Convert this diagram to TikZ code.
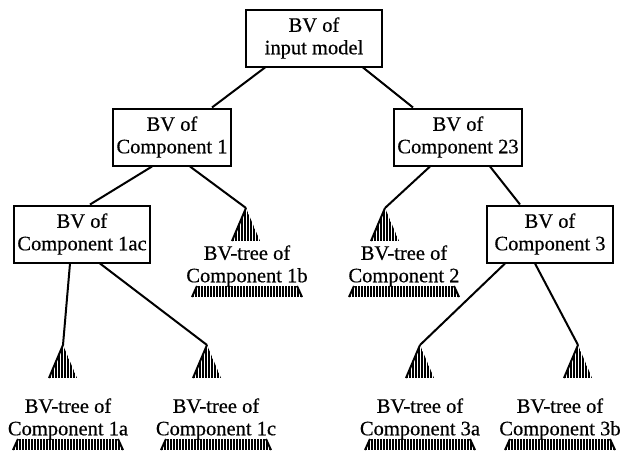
\documentclass[tikz,border=0pt]{standalone}
\usepackage{fontspec}
\setmainfont{Liberation Serif}[FakeBold=0.5]
\usetikzlibrary{positioning}

\begin{document}
\begin{tikzpicture}[x=1pt, y=-1pt,
  every node/.style={font=\fontsize{20.5}{22.5}\selectfont, align=center},
  bvbox/.style={draw, line width=2pt, inner xsep=3pt, inner ysep=4pt, minimum height=57pt},
  link/.style={line width=2pt},
  hatch/.style={line width=1.6pt}]
  \useasboundingbox (0,0) rectangle (628,450);
  % inner nodes
  \node[bvbox, minimum width=136pt] (root) at (314,38) {BV of\\input model};
  \node[bvbox, minimum width=116pt] (c1) at (172,137) {BV of\\Component 1};
  \node[bvbox, minimum width=126pt] (c23) at (458,137) {BV of\\Component 23};
  \node[bvbox, minimum width=134pt] (c1ac) at (82,234) {BV of\\Component 1ac};
  \node[bvbox, minimum width=126pt] (c3) at (550,234) {BV of\\Component 3};
  % leaf subtrees
  \foreach \name/\ax/\ay/\lx/\ly in {1b/246/208/247/266, 2/385/208/404/266,
      1a/63/345/68/419, 1c/207/345/216/419, 3a/420/345/420/419, 3b/578/345/560/419} {
    \coordinate (t\name) at (\ax,\ay);
    \begin{scope}
      \clip (\ax,\ay) -- (\ax-14,\ay+33) -- (\ax+14,\ay+33) -- cycle;
      \foreach \k in {-13,-10,...,14} \draw[hatch] (\ax+\k,\ay) -- (\ax+\k,\ay+33);
    \end{scope}
    \draw[link] (t\name) -- ++(-14,33);
    \node (l\name) at (\lx,\ly) {BV-tree of\\Component \name};
    \begin{scope}
      \clip (\lx-50,\ly+20) -- (\lx+50,\ly+20) -- (\lx+55,\ly+31) -- (\lx-55,\ly+31) -- cycle;
      \foreach \k in {-54,-51,...,54} \draw[hatch] (\lx+\k,\ly+20) -- (\lx+\k,\ly+31);
    \end{scope}
    \draw[link] (\lx-50,\ly+20) -- (\lx-55,\ly+31);
    \draw[link] (\lx+50,\ly+20) -- (\lx+55,\ly+31);
  }
  % connectors
  \draw[link] ([xshift=-49pt]root.south) -- ([xshift=40pt]c1.north);
  \draw[link] ([xshift=49pt]root.south) -- ([xshift=-45pt]c23.north);
  \draw[link] ([xshift=-20pt]c1.south) -- ([xshift=8pt]c1ac.north);
  \draw[link] ([xshift=18pt]c1.south) -- (t1b);
  \draw[link] ([xshift=-28pt]c23.south) -- (t2);
  \draw[link] ([xshift=32pt]c23.south) -- ([xshift=-30pt]c3.north);
  \draw[link] ([xshift=-12pt]c1ac.south) -- (t1a);
  \draw[link] ([xshift=18pt]c1ac.south) -- (t1c);
  \draw[link] ([xshift=-45pt]c3.south) -- (t3a);
  \draw[link] ([xshift=-15pt]c3.south) -- (t3b);
\end{tikzpicture}
\end{document}
